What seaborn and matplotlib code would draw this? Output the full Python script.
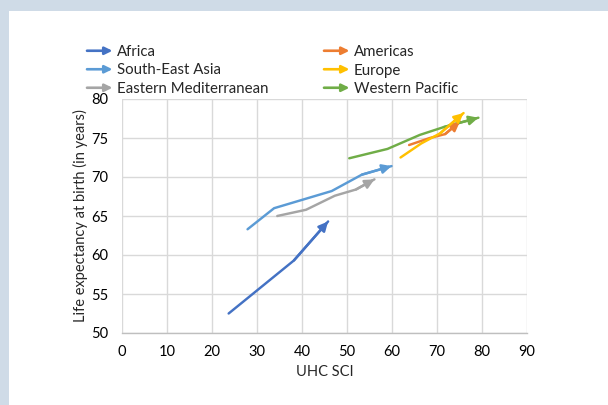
import numpy as np
import pandas as pd
import matplotlib
matplotlib.use("Agg")
import matplotlib.pyplot as plt
from matplotlib.patches import FancyArrowPatch, Rectangle
from matplotlib.legend_handler import HandlerBase
from matplotlib.lines import Line2D
import seaborn as sns

# values (UHC SCI vs life expectancy)
africa_x = [23.7, 38.2, 45.8]
africa_y = [52.5, 59.3, 64.3]
americas_x = [63.8, 68.4, 71.8, 75.1]
americas_y = [74.1, 75.0, 75.5, 77.1]
sea_x = [27.9, 33.8, 46.6, 53.3, 59.9]
sea_y = [63.3, 66.0, 68.2, 70.3, 71.4]
europe_x = [61.9, 66.5, 70.7, 75.9]
europe_y = [72.5, 74.3, 75.6, 78.2]
emr_x = [34.5, 40.9, 47.3, 52.0, 56.1]
emr_y = [65.0, 65.8, 67.6, 68.4, 69.7]
wpr_x = [50.5, 59.0, 66.2, 71.5, 79.2]
wpr_y = [72.4, 73.6, 75.4, 76.4, 77.6]

regions = ["Africa", "Americas", "South-East Asia", "Europe",
           "Eastern Mediterranean", "Western Pacific"]
xs = [africa_x, americas_x, sea_x, europe_x, emr_x, wpr_x]
ys = [africa_y, americas_y, sea_y, europe_y, emr_y, wpr_y]
colors = ["#4472C4", "#ED7D31", "#5B9BD5", "#FFC000", "#A5A5A5", "#70AD47"]

x_ticks = list(range(0, 91, 10))
y_ticks = list(range(50, 81, 5))

sns.set_style("white")
plt.rcParams["font.family"] = ["Lato", "DejaVu Sans"]


class ArrowHandler(HandlerBase):
    def create_artists(self, legend, orig_handle, xdescent, ydescent,
                       width, height, fontsize, trans):
        y = height / 2 - ydescent
        arr = FancyArrowPatch((-xdescent, y), (width - xdescent, y),
                              arrowstyle="-|>,head_length=0.45,head_width=0.22",
                              mutation_scale=10, color=orig_handle.get_color(),
                              lw=1.9, shrinkA=0, shrinkB=0, transform=trans)
        return [arr]


fig = plt.figure(figsize=(6.08, 4.05), dpi=100, facecolor="#CFDBE7")
fig.patches.append(Rectangle((9 / 608, 0), 1, 1 - 11 / 405, transform=fig.transFigure,
                             facecolor="white", edgecolor="none", zorder=-5))
ax = fig.add_axes([122 / 608, 1 - 333 / 405, 405 / 608, 234 / 405])
ax.set_zorder(2)

frames = []
for name, x, y in zip(regions, xs, ys):
    frames.append(pd.DataFrame({"sci": x, "le": y, "region": name}))
df = pd.concat(frames, ignore_index=True)

# draw in the order Excel stacks them
draw_order = ["Africa", "South-East Asia", "Eastern Mediterranean",
              "Western Pacific", "Americas", "Europe"]
for name in draw_order:
    i = regions.index(name)
    d = df[df["region"] == name]
    sns.lineplot(data=d, x="sci", y="le", sort=False, estimator=None,
                 color=colors[i], lw=1.75, ax=ax, legend=False)
    ax.annotate("", xy=(d["sci"].iloc[-1], d["le"].iloc[-1]),
                xytext=(d["sci"].iloc[-2], d["le"].iloc[-2]),
                arrowprops=dict(arrowstyle="-|>,head_length=0.55,head_width=0.27",
                                mutation_scale=10, color=colors[i], lw=1.75,
                                shrinkA=0, shrinkB=0))

ax.set_xlim(0, 90)
ax.set_ylim(50, 80)
ax.set_xticks(x_ticks)
ax.set_yticks(y_ticks)
ax.grid(True, color="#D9D9D9", lw=1.0)
for s in ["top", "right", "left"]:
    ax.spines[s].set_visible(False)
ax.spines["bottom"].set_color("#BFBFBF")
ax.spines["bottom"].set_linewidth(1.0)
ax.tick_params(axis="both", length=0, labelsize=10.5, colors="#000000")
ax.tick_params(axis="x", pad=9)
ax.tick_params(axis="y", pad=10)
ax.set_xlabel("UHC SCI", fontsize=10.5, labelpad=4)
ax.set_ylabel("Life expectancy at birth (in years)", fontsize=10.5, labelpad=2)

handles = [Line2D([], [], color=c) for c in colors]
# column-major: Africa, SEA, EMR | Americas, Europe, WPR
order = [0, 2, 4, 1, 3, 5]
leg = fig.legend([handles[k] for k in order], [regions[k] for k in order],
                 ncol=2, loc="upper left", bbox_to_anchor=(87 / 608, 1 - 45 / 405),
                 frameon=False, fontsize=10.8, handlelength=1.7, handletextpad=0.3,
                 labelspacing=0.3, columnspacing=3.7, borderaxespad=0, borderpad=0,
                 handler_map={Line2D: ArrowHandler()})

fig.savefig("out.png", dpi=100, facecolor=fig.get_facecolor())
